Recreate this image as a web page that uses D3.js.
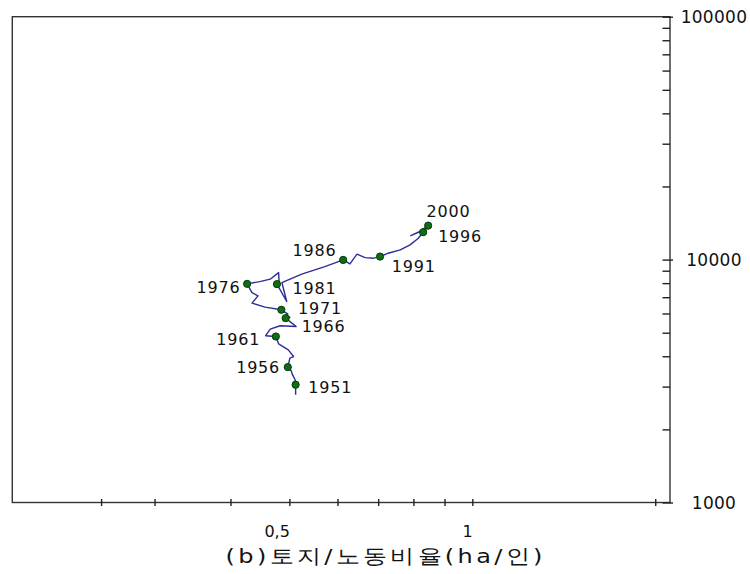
<!DOCTYPE html>
<html>
<head>
<meta charset="utf-8">
<script src="https://cdnjs.cloudflare.com/ajax/libs/d3/7.8.5/d3.min.js"></script>
<style>
  body { margin: 0; background: #fff; }
  svg { display: block; }
  text { font-family: "DejaVu Sans", sans-serif; fill: #111; }
</style>
</head>
<body>
<svg id="chart" width="750" height="574"></svg>
<script>
// years 1950-2000
const years = d3.range(1950, 2001);

// land/labour ratio (ha per person)
const landLabor = [
  0.512, 0.512, 0.511, 0.506, 0.503, 0.499, 0.497, 0.501, 0.508, 0.498,
  0.480, 0.475, 0.457, 0.465, 0.483, 0.513, 0.493, 0.501, 0.492, 0.497,
  0.489, 0.485, 0.456, 0.434, 0.444, 0.434, 0.426, 0.447, 0.465, 0.480,
  0.481, 0.477, 0.495, 0.486, 0.524, 0.572, 0.613, 0.629, 0.646, 0.666,
  0.688, 0.705, 0.727, 0.761, 0.790, 0.815, 0.830, 0.839, 0.792, 0.815,
  0.846
];

// output per worker (log scale)
const output = [
  2780, 3055, 3200, 3360, 3500, 3545, 3610, 3930, 3990, 4250,
  4500, 4825, 4860, 5175, 5340, 5300, 5740, 5800, 5870, 5980,
  6115, 6215, 6375, 6620, 7090, 7315, 7945, 8120, 8305, 8840,
  8045, 7925, 6720, 8045, 8710, 9360, 9970, 9600, 10525, 10190,
  10135, 10290, 10625, 10960, 11495, 12245, 12965, 13340, 12550, 12965,
  13800
];

const labelYears = [1951, 1956, 1961, 1966, 1971, 1976, 1981, 1986, 1991, 1996, 2000];

const xTicks = [0.245, 0.3, 0.4, 0.5, 0.6, 0.7, 0.8, 0.9, 1, 2];
const xTickLabels = {0.5: "0,5", 1: "1"};
const yTicks = [1000, 2000, 3000, 4000, 5000, 6000, 7000, 8000, 9000,
                10000, 20000, 30000, 40000, 50000, 60000, 70000, 80000, 90000, 100000];
const yMajor = [1000, 10000, 100000];

// label placement around each dot: [dx, dy, anchor]
const labelPos = {
  1951: [12.6, 8.3, "start"],
  1956: [-7.7, 6, "end"],
  1961: [-15.7, 8.3, "end"],
  1966: [16, 14, "start"],
  1971: [16.7, 4.5, "start"],
  1976: [-6.7, 9.3, "end"],
  1981: [15.6, 9.7, "start"],
  1986: [-6.6, -4.3, "end"],
  1991: [11.7, 15, "start"],
  1996: [15, 9.4, "start"],
  2000: [-1.6, -9, "start"]
};

const data = years.map((yr, i) => ({year: yr, ratio: landLabor[i], prod: output[i]}));

const margin = {top: 16.7, right: 80, bottom: 71.5, left: 12.3};
const svg = d3.select("#chart");
const W = 750 - margin.left - margin.right;
const H = 574 - margin.top - margin.bottom;

const g = svg.append("g").attr("transform", `translate(${margin.left},${margin.top})`);

const x = d3.scaleLog().domain([0.175, 2.115]).range([0, W]);
const y = d3.scaleLog().domain([1000, 100000]).range([H, 0]);

// frame
g.append("rect")
  .attr("width", W).attr("height", H)
  .attr("fill", "none").attr("stroke", "#333").attr("stroke-width", 1.4);

// bottom axis
const xAxis = g.append("g")
  .attr("transform", `translate(0,${H})`)
  .call(d3.axisBottom(x).tickValues(xTicks).tickSize(0).tickPadding(0)
    .tickFormat(d => xTickLabels[d] || ""));
xAxis.select(".domain").remove();
xAxis.selectAll(".tick line")
  .attr("y1", -3.5).attr("y2", 3.5)
  .attr("stroke", "#222").attr("stroke-width", 1.4);
xAxis.selectAll(".tick text")
  .attr("text-anchor", "end")
  .attr("y", 34).attr("dy", 0)
  .attr("font-size", 16)
  .attr("font-family", "DejaVu Sans")
  .attr("fill", "#111");

// right axis
const yAxis = g.append("g")
  .attr("transform", `translate(${W},0)`)
  .call(d3.axisRight(y).tickValues(yTicks).tickSize(0).tickPadding(0)
    .tickFormat(d => yMajor.includes(d) ? String(d) : ""));
yAxis.select(".domain").remove();
yAxis.selectAll(".tick line")
  .attr("x1", -7.5)
  .attr("x2", d => yMajor.includes(d) ? 3 : 0)
  .attr("stroke", "#222").attr("stroke-width", 1.4);
yAxis.selectAll(".tick text")
  .attr("text-anchor", "middle")
  .attr("x", 44).attr("dy", "0.36em")
  .attr("font-size", 17)
  .attr("font-family", "DejaVu Sans")
  .attr("letter-spacing", 0.3)
  .attr("fill", "#111");

// trajectory line
const line = d3.line().x(d => x(d.ratio)).y(d => y(d.prod));
g.append("path")
  .datum(data)
  .attr("d", line)
  .attr("fill", "none")
  .attr("stroke", "#2c2c9c")
  .attr("stroke-width", 1.4)
  .attr("stroke-linejoin", "round");

// marked years
const marked = data.filter(d => labelYears.includes(d.year));
g.selectAll("circle.pt")
  .data(marked)
  .enter()
  .append("circle")
  .attr("class", "pt")
  .attr("cx", d => x(d.ratio))
  .attr("cy", d => y(d.prod))
  .attr("r", 3.6)
  .attr("fill", "#0d6e12")
  .attr("stroke", "#053a08")
  .attr("stroke-width", 1);

g.selectAll("text.yr")
  .data(marked)
  .enter()
  .append("text")
  .attr("class", "yr")
  .attr("x", d => x(d.ratio) + labelPos[d.year][0])
  .attr("y", d => y(d.prod) + labelPos[d.year][1])
  .attr("text-anchor", d => labelPos[d.year][2])
  .attr("font-size", 16)
  .attr("letter-spacing", 0.8)
  .text(d => d.year);

// x axis title, stretched a little to match the wide original glyphs
svg.append("g")
  .attr("transform", "translate(384,563) scale(1.2,1)")
  .append("text")
  .attr("text-anchor", "middle")
  .attr("font-family", "'Noto Sans CJK KR', sans-serif")
  .attr("font-size", 20)
  .attr("textLength", 264)
  .attr("lengthAdjust", "spacing")
  .text("(b)토지/노동비율(ha/인)");
</script>
</body>
</html>
